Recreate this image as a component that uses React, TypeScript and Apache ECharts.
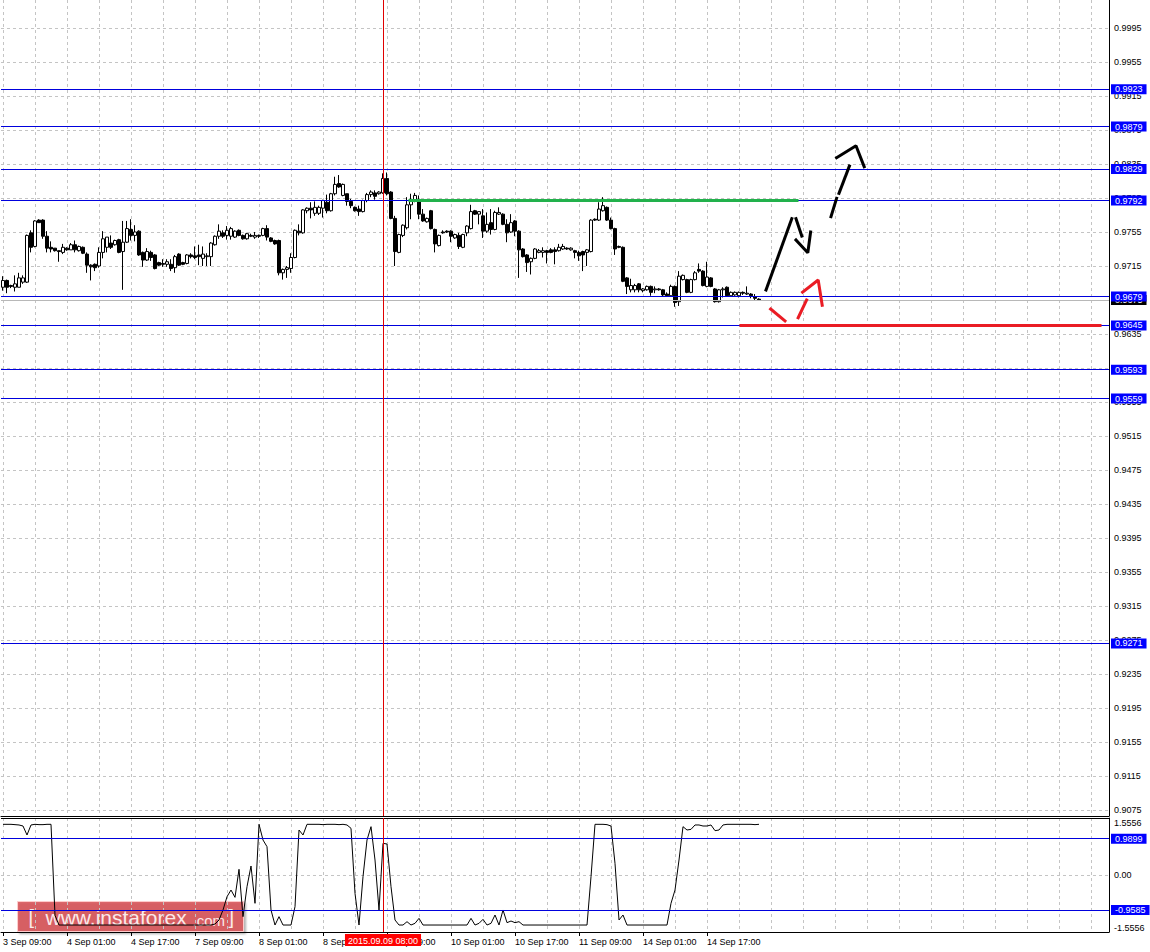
import React, { useEffect, useRef } from "react";
import * as echarts from "echarts";

// ---------- DATA ----------
// H1 candles: [open, close, low, high]
const ohlc: number[][] = [
  [0.9690, 0.9698, 0.9686, 0.9703], [0.9698, 0.9690, 0.9683, 0.9699], [0.9692, 0.9691, 0.9689, 0.9693], [0.9690, 0.9694, 0.9685, 0.9704], [0.9690, 0.9701, 0.9690, 0.9707],
  [0.9696, 0.9701, 0.9694, 0.9704], [0.9696, 0.9751, 0.9695, 0.9752], [0.9754, 0.9737, 0.9731, 0.9757], [0.9738, 0.9768, 0.9737, 0.9769], [0.9769, 0.9766, 0.9766, 0.9770],
  [0.9769, 0.9750, 0.9747, 0.9770], [0.9750, 0.9736, 0.9731, 0.9756], [0.9737, 0.9735, 0.9731, 0.9744], [0.9736, 0.9733, 0.9732, 0.9736], [0.9733, 0.9732, 0.9720, 0.9733],
  [0.9731, 0.9737, 0.9729, 0.9741], [0.9736, 0.9734, 0.9733, 0.9737], [0.9734, 0.9740, 0.9734, 0.9742], [0.9740, 0.9734, 0.9731, 0.9745], [0.9733, 0.9738, 0.9732, 0.9739],
  [0.9737, 0.9730, 0.9729, 0.9738], [0.9729, 0.9716, 0.9707, 0.9731], [0.9716, 0.9714, 0.9698, 0.9717], [0.9717, 0.9713, 0.9709, 0.9718], [0.9715, 0.9731, 0.9713, 0.9737],
  [0.9731, 0.9747, 0.9724, 0.9756], [0.9737, 0.9749, 0.9731, 0.9749], [0.9742, 0.9737, 0.9735, 0.9751], [0.9740, 0.9745, 0.9739, 0.9746], [0.9746, 0.9731, 0.9730, 0.9747],
  [0.9732, 0.9743, 0.9687, 0.9768], [0.9743, 0.9759, 0.9742, 0.9768], [0.9758, 0.9751, 0.9745, 0.9770], [0.9751, 0.9755, 0.9744, 0.9763], [0.9756, 0.9728, 0.9727, 0.9757],
  [0.9731, 0.9722, 0.9714, 0.9732], [0.9722, 0.9732, 0.9721, 0.9736], [0.9731, 0.9725, 0.9721, 0.9733], [0.9728, 0.9712, 0.9711, 0.9729], [0.9719, 0.9716, 0.9715, 0.9720],
  [0.9718, 0.9717, 0.9714, 0.9723], [0.9717, 0.9720, 0.9714, 0.9723], [0.9717, 0.9712, 0.9709, 0.9723], [0.9713, 0.9726, 0.9707, 0.9728], [0.9729, 0.9716, 0.9715, 0.9730],
  [0.9719, 0.9717, 0.9716, 0.9720], [0.9718, 0.9728, 0.9717, 0.9729], [0.9728, 0.9726, 0.9724, 0.9730], [0.9727, 0.9725, 0.9723, 0.9738], [0.9728, 0.9726, 0.9716, 0.9740],
  [0.9724, 0.9729, 0.9715, 0.9738], [0.9726, 0.9727, 0.9715, 0.9730], [0.9726, 0.9742, 0.9715, 0.9743], [0.9740, 0.9750, 0.9739, 0.9751], [0.9750, 0.9756, 0.9747, 0.9764],
  [0.9754, 0.9750, 0.9748, 0.9757], [0.9751, 0.9757, 0.9746, 0.9762], [0.9750, 0.9759, 0.9746, 0.9761], [0.9749, 0.9756, 0.9748, 0.9757], [0.9757, 0.9751, 0.9750, 0.9758],
  [0.9751, 0.9747, 0.9746, 0.9752], [0.9747, 0.9753, 0.9746, 0.9754], [0.9751, 0.9750, 0.9749, 0.9753], [0.9749, 0.9751, 0.9747, 0.9755], [0.9751, 0.9750, 0.9748, 0.9752],
  [0.9751, 0.9759, 0.9750, 0.9760], [0.9759, 0.9749, 0.9745, 0.9763], [0.9748, 0.9744, 0.9743, 0.9749], [0.9745, 0.9741, 0.9740, 0.9746], [0.9745, 0.9707, 0.9704, 0.9746],
  [0.9707, 0.9711, 0.9699, 0.9712], [0.9711, 0.9713, 0.9701, 0.9715], [0.9712, 0.9725, 0.9707, 0.9730], [0.9725, 0.9757, 0.9724, 0.9758], [0.9756, 0.9754, 0.9751, 0.9764],
  [0.9754, 0.9781, 0.9753, 0.9782], [0.9780, 0.9783, 0.9777, 0.9784], [0.9783, 0.9781, 0.9771, 0.9790], [0.9777, 0.9784, 0.9774, 0.9791], [0.9777, 0.9784, 0.9775, 0.9786],
  [0.9783, 0.9792, 0.9772, 0.9793], [0.9790, 0.9780, 0.9777, 0.9799], [0.9780, 0.9800, 0.9779, 0.9801], [0.9800, 0.9811, 0.9798, 0.9820], [0.9812, 0.9808, 0.9807, 0.9822],
  [0.9798, 0.9811, 0.9797, 0.9812], [0.9800, 0.9791, 0.9786, 0.9800], [0.9791, 0.9786, 0.9783, 0.9794], [0.9784, 0.9780, 0.9779, 0.9785], [0.9782, 0.9779, 0.9774, 0.9786],
  [0.9779, 0.9792, 0.9778, 0.9793], [0.9792, 0.9799, 0.9790, 0.9801], [0.9799, 0.9802, 0.9796, 0.9804], [0.9801, 0.9797, 0.9793, 0.9804], [0.9800, 0.9802, 0.9799, 0.9803],
  [0.9801, 0.9818, 0.9800, 0.9824], [0.9818, 0.9800, 0.9798, 0.9825], [0.9802, 0.9771, 0.9770, 0.9803], [0.9771, 0.9732, 0.9715, 0.9774], [0.9731, 0.9752, 0.9730, 0.9753],
  [0.9751, 0.9763, 0.9749, 0.9764], [0.9760, 0.9787, 0.9758, 0.9796], [0.9787, 0.9792, 0.9770, 0.9800], [0.9792, 0.9798, 0.9790, 0.9801], [0.9792, 0.9776, 0.9770, 0.9798],
  [0.9776, 0.9768, 0.9767, 0.9782], [0.9767, 0.9771, 0.9766, 0.9772], [0.9780, 0.9759, 0.9758, 0.9781], [0.9758, 0.9741, 0.9731, 0.9759], [0.9739, 0.9751, 0.9738, 0.9752],
  [0.9755, 0.9754, 0.9753, 0.9757], [0.9756, 0.9755, 0.9754, 0.9757], [0.9756, 0.9750, 0.9743, 0.9757], [0.9748, 0.9752, 0.9747, 0.9753], [0.9751, 0.9738, 0.9735, 0.9754],
  [0.9737, 0.9752, 0.9736, 0.9753], [0.9754, 0.9762, 0.9750, 0.9763], [0.9759, 0.9779, 0.9758, 0.9787], [0.9780, 0.9776, 0.9775, 0.9781], [0.9776, 0.9779, 0.9764, 0.9779],
  [0.9774, 0.9756, 0.9748, 0.9782], [0.9756, 0.9764, 0.9754, 0.9778], [0.9766, 0.9758, 0.9752, 0.9782], [0.9758, 0.9778, 0.9757, 0.9780], [0.9776, 0.9778, 0.9775, 0.9784],
  [0.9776, 0.9764, 0.9763, 0.9777], [0.9764, 0.9754, 0.9743, 0.9770], [0.9755, 0.9766, 0.9754, 0.9776], [0.9768, 0.9756, 0.9750, 0.9769], [0.9756, 0.9734, 0.9701, 0.9757],
  [0.9735, 0.9726, 0.9725, 0.9736], [0.9728, 0.9719, 0.9708, 0.9729], [0.9720, 0.9724, 0.9705, 0.9725], [0.9724, 0.9735, 0.9723, 0.9736], [0.9731, 0.9733, 0.9730, 0.9735],
  [0.9731, 0.9733, 0.9725, 0.9737], [0.9733, 0.9731, 0.9718, 0.9734], [0.9734, 0.9731, 0.9730, 0.9736], [0.9734, 0.9732, 0.9717, 0.9737], [0.9733, 0.9737, 0.9732, 0.9741],
  [0.9735, 0.9738, 0.9734, 0.9741], [0.9736, 0.9735, 0.9734, 0.9737], [0.9734, 0.9736, 0.9733, 0.9737], [0.9733, 0.9731, 0.9724, 0.9734], [0.9731, 0.9727, 0.9721, 0.9733],
  [0.9732, 0.9728, 0.9709, 0.9733], [0.9731, 0.9734, 0.9715, 0.9735], [0.9732, 0.9769, 0.9731, 0.9770], [0.9770, 0.9769, 0.9768, 0.9771], [0.9769, 0.9782, 0.9768, 0.9790],
  [0.9780, 0.9786, 0.9779, 0.9796], [0.9784, 0.9769, 0.9768, 0.9785], [0.9769, 0.9759, 0.9758, 0.9772], [0.9759, 0.9735, 0.9728, 0.9760], [0.9738, 0.9737, 0.9736, 0.9739],
  [0.9737, 0.9697, 0.9696, 0.9738], [0.9701, 0.9691, 0.9682, 0.9702], [0.9687, 0.9692, 0.9684, 0.9700], [0.9687, 0.9692, 0.9684, 0.9694], [0.9694, 0.9687, 0.9684, 0.9695],
  [0.9686, 0.9688, 0.9684, 0.9689], [0.9687, 0.9691, 0.9686, 0.9692], [0.9691, 0.9684, 0.9680, 0.9692], [0.9687, 0.9688, 0.9683, 0.9691], [0.9688, 0.9687, 0.9686, 0.9689],
  [0.9687, 0.9681, 0.9679, 0.9688], [0.9682, 0.9680, 0.9679, 0.9684], [0.9680, 0.9691, 0.9679, 0.9693], [0.9691, 0.9672, 0.9667, 0.9692], [0.9673, 0.9703, 0.9668, 0.9709],
  [0.9699, 0.9704, 0.9698, 0.9705], [0.9699, 0.9684, 0.9683, 0.9700], [0.9684, 0.9699, 0.9683, 0.9700], [0.9699, 0.9707, 0.9698, 0.9709], [0.9711, 0.9709, 0.9707, 0.9718],
  [0.9709, 0.9692, 0.9691, 0.9710], [0.9691, 0.9702, 0.9690, 0.9720], [0.9701, 0.9691, 0.9690, 0.9702], [0.9688, 0.9673, 0.9672, 0.9689], [0.9673, 0.9687, 0.9672, 0.9688],
  [0.9687, 0.9688, 0.9678, 0.9690], [0.9690, 0.9680, 0.9679, 0.9691], [0.9680, 0.9684, 0.9679, 0.9685], [0.9681, 0.9684, 0.9680, 0.9685], [0.9680, 0.9684, 0.9678, 0.9685],
  [0.9684, 0.9683, 0.9681, 0.9685], [0.9682, 0.9683, 0.9681, 0.9691], [0.9682, 0.9680, 0.9677, 0.9683], [0.9679, 0.9677, 0.9675, 0.9682], [0.9676, 0.9675, 0.9674, 0.9677],
];

// oscillator sub-window values (one per candle)
const oscillator: number[] = [
  1.383, 1.383, 1.383, 1.374, 1.365, 1.337, 1.092, 1.365, 1.383, 1.374,
  1.374, 1.383, 1.383, -1.10, -1.365, -1.365, -1.365, -1.365, -1.365, -1.365,
  -1.365, -1.365, -1.365, -1.365, -1.365, -1.365, -1.365, -1.365, -1.365, -1.365,
  -1.365, -1.365, -1.365, -1.365, -1.365, -1.365, -1.365, -1.365, -1.365, -1.365,
  -1.365, -1.365, -1.365, -1.365, -1.365, -1.365, -1.365, -1.365, -1.365, -1.365,
  -1.365, -1.365, -1.365, -1.338, -1.228, -0.955, -0.592, -0.410, -0.610, 0.155,
  -1.137, -0.319, 0.246, -0.773, 1.383, 0.955, 0.773, -0.955, -1.365, -1.137,
  -1.365, -1.365, -1.365, -0.864, 1.228, 1.092, 1.383, 1.383, 1.383, 1.383,
  1.374, 1.383, 1.383, 1.383, 1.374, 1.383, 1.365, 1.274, -0.501, -1.365,
  -0.046, 0.955, 1.319, 0.409, -0.955, 0.864, 0.846, -0.319, -1.228, -1.365,
  -1.365, -1.274, -1.365, -1.319, -1.183, -1.365, -1.365, -1.365, -1.365, -1.365,
  -1.365, -1.365, -1.365, -1.365, -1.365, -1.365, -1.365, -1.183, -1.365, -1.319,
  -1.210, -1.365, -1.319, -1.092, -1.365, -0.955, -1.301, -1.256, -1.301, -1.274,
  -1.365, -1.365, -1.365, -1.365, -1.365, -1.365, -1.365, -1.365, -1.365, -1.365,
  -1.365, -1.365, -1.365, -1.365, -1.365, -1.365, -1.365, -0.046, 1.383, 1.383,
  1.383, 1.374, 1.337, 0.318, -1.228, -1.092, -1.365, -1.365, -1.365, -1.365,
  -1.365, -1.365, -1.365, -1.365, -1.365, -1.365, -1.365, -0.773, -0.410, 0.409,
  1.319, 1.228, 1.246, 1.365, 1.365, 1.337, 1.337, 1.365, 1.210, 1.228,
  1.365, 1.383, 1.383, 1.383, 1.383, 1.383, 1.383, 1.383, 1.374, 1.383,
];

const totalSlots = 277; // bars + empty right margin
const timeTickIndex = [0, 16, 32, 48, 64, 80, 96, 112, 128, 144, 160, 176];
const timeTickText = [
  "3 Sep 09:00", "4 Sep 01:00", "4 Sep 17:00", "7 Sep 09:00", "8 Sep 01:00", "8 Sep 17:00",
  "9 Sep 09:00", "10 Sep 01:00", "10 Sep 17:00", "11 Sep 09:00", "14 Sep 01:00", "14 Sep 17:00",
];

const priceTicks = [
  0.9995, 0.9955, 0.9915, 0.9875, 0.9835, 0.9795, 0.9755, 0.9715, 0.9675, 0.9635, 0.9595, 0.9555,
  0.9515, 0.9475, 0.9435, 0.9395, 0.9355, 0.9315, 0.9275, 0.9235, 0.9195, 0.9155, 0.9115, 0.9075,
];
const priceMin = 0.906794;
const priceMax = 1.002794;

const levelLines = [0.9923, 0.9879, 0.9829, 0.9792, 0.9679, 0.9645, 0.9593, 0.9559, 0.9271];
const bidPrice = 0.9675;

const oscMax = 1.5556;
const oscLevels = [0.9899, -0.9585];

const crosshairIndex = 95;
const crosshairText = "2015.09.09 08:00";

// annotation objects drawn in (bar index, price) coordinates
const greenResistance: number[][] = [[101.75, 0.9792], [198.5, 0.9792]];
const redSupport: number[][] = [[184.5, 0.9645], [274.25, 0.9645]];
const blackPath: number[][][] = [
  [[190.75, 0.96868], [197.2, 0.97706]],
  [[198.25, 0.97706], [199.7, 0.97503]],
  [[198.25, 0.97456], [201.2, 0.97306], [201.9, 0.9755]],
  [[207.0, 0.9773], [208.4, 0.97946]],
  [[209.0, 0.98005], [211.6, 0.98326]],
  [[208.4, 0.98424], [213.25, 0.98565], [215.3, 0.98318]],
];
const redPath: number[][][] = [
  [[191.9, 0.96644], [195.5, 0.96503]],
  [[198.8, 0.96542], [200.9, 0.9675]],
  [[199.9, 0.96841], [203.8, 0.96985], [204.8, 0.96688]],
];

// ---------- CHART ----------
const FONT = "'Liberation Sans', Arial, sans-serif";
const GRID_COLOR = "#c4c4c4";
const LEVEL_BLUE = "#0000dd";

export default function App() {
  const ref = useRef<HTMLDivElement>(null);

  useEffect(() => {
    if (!ref.current) return;
    const chart = echarts.init(ref.current, undefined, { renderer: "svg" });

    const categories = Array.from({ length: totalSlots }, (_, i) => {
      const k = timeTickIndex.indexOf(i);
      return k >= 0 ? timeTickText[k] : "";
    });

    const vSplit = {
      show: true,
      interval: (i: number) => i % 8 === 0,
      alignWithLabel: true,
      lineStyle: { color: GRID_COLOR, type: [3, 3] as any, width: 1 },
    };

    const levelLabel = (bg: string) => ({
      show: true,
      position: "end",
      distance: 2,
      backgroundColor: bg,
      color: "#fff",
      fontFamily: FONT,
      fontSize: 9,
      lineHeight: 10,
      padding: [0, 4, 0, 4],
      formatter: (p: any) => Number(p.value).toFixed(4),
    });

    const annotationSeries = (pts: number[][], color: string) => ({
      type: "line",
      xAxisIndex: 2,
      yAxisIndex: 0,
      data: pts,
      symbol: "none",
      silent: true,
      z: 20,
      lineStyle: { color, width: 3, cap: "square" },
    });

    const option: any = {
      animation: false,
      backgroundColor: "#fff",
      grid: [
        { left: 1, top: 0, width: 1108, height: 816, show: false },
        { left: 1, top: 818, width: 1108, height: 114, show: false },
      ],
      xAxis: [
        {
          type: "category",
          gridIndex: 0,
          data: categories,
          boundaryGap: true,
          axisLine: { show: true, onZero: false, lineStyle: { color: "#000", width: 1 } },
          axisTick: { show: false },
          axisLabel: { show: false },
          splitLine: vSplit,
        },
        {
          type: "category",
          gridIndex: 1,
          data: categories,
          boundaryGap: true,
          axisLine: { show: true, onZero: false, lineStyle: { color: "#000", width: 1 } },
          axisTick: {
            show: true,
            alignWithLabel: true,
            length: 4,
            interval: (_i: number, v: string) => v !== "",
            lineStyle: { color: "#000" },
          },
          axisLabel: {
            show: true,
            interval: (_i: number, v: string) => v !== "",
            align: "left",
            margin: 5,
            color: "#000",
            fontFamily: FONT,
            fontSize: 9,
          },
          splitLine: vSplit,
        },
        {
          type: "value",
          gridIndex: 0,
          min: -0.5,
          max: totalSlots - 0.5,
          show: false,
          axisLine: { onZero: false },
        },
      ],
      yAxis: [
        {
          type: "value",
          gridIndex: 0,
          position: "right",
          min: priceMin,
          max: priceMax,
          axisLine: { show: true, onZero: false, lineStyle: { color: "#000", width: 1 } },
          axisTick: { show: false, customValues: priceTicks },
          axisLabel: {
            customValues: priceTicks,
            margin: 5,
            color: "#000",
            fontFamily: FONT,
            fontSize: 9,
            formatter: (v: number) => v.toFixed(4),
          },
          splitLine: { show: true, lineStyle: { color: GRID_COLOR, type: [3, 3], width: 1 } },
        },
        {
          type: "value",
          gridIndex: 1,
          position: "right",
          min: -oscMax,
          max: oscMax,
          interval: oscMax,
          axisLine: { show: true, onZero: false, lineStyle: { color: "#000", width: 1 } },
          axisTick: { show: false },
          axisLabel: {
            margin: 5,
            color: "#000",
            fontFamily: FONT,
            fontSize: 9,
            verticalAlignMaxLabel: "top",
            verticalAlignMinLabel: "bottom",
            formatter: (v: number) => (Math.abs(v) < 1e-9 ? "0.00" : v.toFixed(4)),
          },
          splitLine: { show: true, lineStyle: { color: GRID_COLOR, type: [3, 3], width: 1 } },
        },
      ],
      series: [
        {
          type: "candlestick",
          xAxisIndex: 0,
          yAxisIndex: 0,
          data: ohlc,
          barWidth: 3,
          itemStyle: {
            color: "#ffffff",
            color0: "#000000",
            borderColor: "#000000",
            borderColor0: "#000000",
            borderWidth: 1,
          },
          markLine: {
            symbol: "none",
            silent: true,
            animation: false,
            precision: 4,
            z: 3,
            data: [
              {
                yAxis: bidPrice,
                lineStyle: { color: "#b8b8b8", type: "solid", width: 1 },
                label: levelLabel("#000"),
              },
              ...levelLines.map((v) => ({
                yAxis: v,
                lineStyle: { color: LEVEL_BLUE, type: "solid", width: 1 },
                label: levelLabel("#0000ff"),
              })),
              {
                xAxis: crosshairIndex,
                lineStyle: { color: "#e00000", type: "solid", width: 1 },
                label: { show: false },
              },
            ],
          },
        },
        annotationSeries(greenResistance, "#22b14c"),
        annotationSeries(redSupport, "#ea1c24"),
        ...blackPath.map((p) => annotationSeries(p, "#000000")),
        ...redPath.map((p) => annotationSeries(p, "#ea1c24")),
        {
          type: "line",
          xAxisIndex: 1,
          yAxisIndex: 1,
          data: oscillator,
          symbol: "none",
          silent: true,
          lineStyle: { color: "#000", width: 1 },
          markLine: {
            symbol: "none",
            silent: true,
            animation: false,
            precision: 4,
            data: [
              {
                yAxis: oscMax,
                lineStyle: { color: "#000", type: "solid", width: 1 },
                label: { show: false },
              },
              ...oscLevels.map((v) => ({
                yAxis: v,
                lineStyle: { color: LEVEL_BLUE, type: "solid", width: 1 },
                label: levelLabel("#0000ff"),
              })),
              {
                xAxis: crosshairIndex,
                lineStyle: { color: "#e00000", type: "solid", width: 1 },
                label: {
                  show: true,
                  position: "start",
                  distance: 2,
                  formatter: crosshairText,
                  backgroundColor: "#ff0000",
                  color: "#fff",
                  fontFamily: FONT,
                  fontSize: 9,
                  padding: [2, 3, 1, 3],
                },
              },
            ],
          },
        },
      ],
      graphic: [
        {
          type: "group",
          left: 17,
          top: 901,
          z: 100,
          children: [
            {
              type: "rect",
              shape: { x: 0, y: 0, width: 226, height: 30 },
              style: {
                fill: "rgba(214,72,78,0.82)",
                stroke: "rgba(255,205,205,0.95)",
                lineWidth: 1,
                shadowColor: "rgba(0,0,0,0.35)",
                shadowOffsetX: 2,
                shadowOffsetY: 2,
                shadowBlur: 2,
              },
            },
            {
              type: "text",
              x: 11,
              y: 15,
              style: { text: "[", fill: "#fbeaea", font: `20px ${FONT}`, verticalAlign: "middle" },
            },
            {
              type: "text",
              x: 28,
              y: 16,
              style: { text: "www.instaforex", fill: "#fbeaea", font: `21px ${FONT}`, verticalAlign: "middle" },
            },
            {
              type: "text",
              x: 175,
              y: 19,
              style: { text: ".com", fill: "#fbeaea", font: `15px ${FONT}`, verticalAlign: "middle" },
            },
            {
              type: "text",
              x: 211,
              y: 15,
              style: { text: "]", fill: "#fbeaea", font: `20px ${FONT}`, verticalAlign: "middle" },
            },
          ],
        },
      ],
    };

    chart.setOption(option);
    return () => chart.dispose();
  }, []);

  return (
    <div
      ref={ref}
      style={{ position: "absolute", left: 0, top: 0, width: 1150, height: 952, background: "#fff" }}
    />
  );
}
